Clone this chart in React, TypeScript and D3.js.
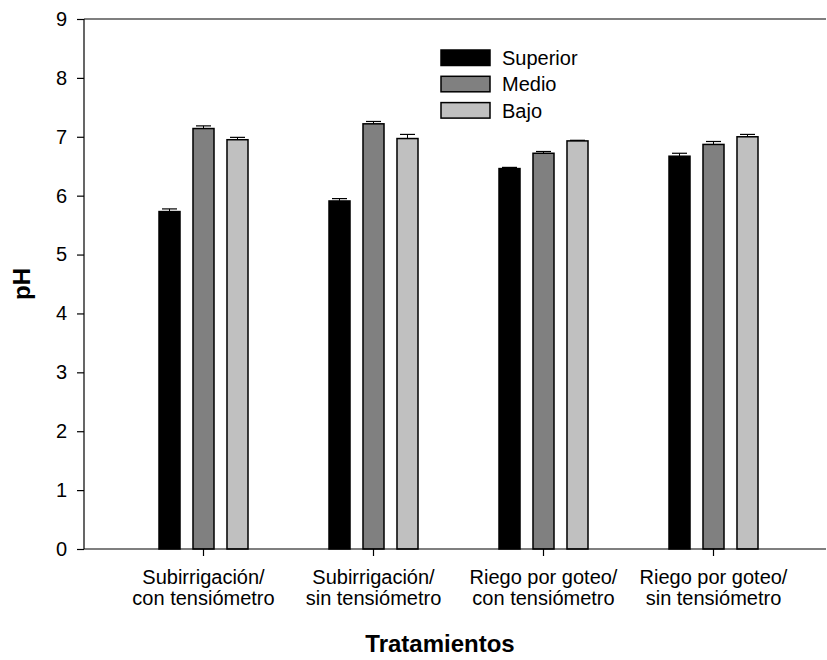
import { useRef, useEffect } from 'react';
import * as d3 from 'd3';

const categories = [
  ['Subirrigación/', 'con tensiómetro'],
  ['Subirrigación/', 'sin tensiómetro'],
  ['Riego por goteo/', 'con tensiómetro'],
  ['Riego por goteo/', 'sin tensiómetro'],
];
const seriesNames = ['Superior', 'Medio', 'Bajo'];
const seriesColors = ['#000000', '#808080', '#c0c0c0'];

const superior = [5.73, 5.91, 6.46, 6.67];
const medio = [7.14, 7.22, 6.72, 6.87];
const bajo = [6.95, 6.97, 6.93, 7.0];

const superiorErr = [0.045, 0.04, 0.02, 0.05];
const medioErr = [0.045, 0.04, 0.03, 0.05];
const bajoErr = [0.04, 0.07, 0.01, 0.04];

const yTicks = [0, 1, 2, 3, 4, 5, 6, 7, 8, 9];

const FONT = "Arial, 'Liberation Sans', sans-serif";

export default function App() {
  const svgRef = useRef<SVGSVGElement>(null);

  useEffect(() => {
    if (!svgRef.current) return;
    const width = 827;
    const height = 660;
    const svg = d3.select(svgRef.current);
    svg.selectAll('*').remove();
    svg.attr('width', width).attr('height', height);

    const left = 84;
    const right = 826;
    const top = 19;
    const bottom = 549;

    const values = [superior, medio, bajo];
    const errors = [superiorErr, medioErr, bajoErr];
    const catIdx = categories.map((_, i) => String(i));

    const x = d3.scalePoint<string>().domain(catIdx).range([left + 119.5, right - 112.5]);
    const xSub = d3.scaleBand<string>()
      .domain(seriesNames)
      .range([-44.5, 44.5])
      .paddingInner(0.382);
    const y = d3.scaleLinear().domain([0, 9]).range([bottom, top]);

    // bars
    seriesNames.forEach((name, s) => {
      const g = svg.append('g');
      g.selectAll('rect')
        .data(values[s])
        .join('rect')
        .attr('x', (_, i) => (x(String(i)) as number) + (xSub(name) as number))
        .attr('y', (d) => y(d))
        .attr('width', xSub.bandwidth())
        .attr('height', (d) => y(0) - y(d))
        .attr('fill', seriesColors[s])
        .attr('stroke', '#000')
        .attr('stroke-width', 1.5);

      // error bars (upper half only, like the original)
      const cx = (i: number) => (x(String(i)) as number) + (xSub(name) as number) + xSub.bandwidth() / 2;
      g.selectAll('line.err')
        .data(values[s])
        .join('line')
        .attr('class', 'err')
        .attr('x1', (_, i) => cx(i))
        .attr('x2', (_, i) => cx(i))
        .attr('y1', (d) => y(d))
        .attr('y2', (d, i) => y(d + errors[s][i]))
        .attr('stroke', '#000')
        .attr('stroke-width', 1);
      g.selectAll('line.cap')
        .data(values[s])
        .join('line')
        .attr('class', 'cap')
        .attr('x1', (_, i) => cx(i) - 7.5)
        .attr('x2', (_, i) => cx(i) + 7.5)
        .attr('y1', (d, i) => y(d + errors[s][i]))
        .attr('y2', (d, i) => y(d + errors[s][i]))
        .attr('stroke', '#000')
        .attr('stroke-width', 1.2);
    });

    // frame lines: left axis, top line, bottom axis
    svg.append('line')
      .attr('x1', left).attr('x2', left).attr('y1', top).attr('y2', bottom)
      .attr('stroke', '#000').attr('stroke-width', 1.2);
    svg.append('line')
      .attr('x1', left).attr('x2', right).attr('y1', top).attr('y2', top)
      .attr('stroke', '#000').attr('stroke-width', 1.2);
    svg.append('line')
      .attr('x1', left).attr('x2', right).attr('y1', bottom).attr('y2', bottom)
      .attr('stroke', '#000').attr('stroke-width', 1.2);

    // y axis
    const yAxis = svg.append('g')
      .attr('transform', `translate(${left},0)`)
      .call(d3.axisLeft(y).tickValues(yTicks).tickSize(7).tickPadding(10).tickFormat(d3.format('d')));
    yAxis.select('.domain').remove();
    yAxis.selectAll('line').attr('stroke', '#000').attr('stroke-width', 1.2);
    yAxis.selectAll('text')
      .attr('font-family', FONT)
      .attr('font-size', 20)
      .attr('fill', '#000');

    // x ticks
    svg.append('g')
      .selectAll('line')
      .data(catIdx)
      .join('line')
      .attr('x1', (d) => x(d) as number)
      .attr('x2', (d) => x(d) as number)
      .attr('y1', bottom)
      .attr('y2', bottom + 7)
      .attr('stroke', '#000')
      .attr('stroke-width', 1.2);

    // category labels
    const lab = svg.append('g')
      .selectAll('text')
      .data(categories)
      .join('text')
      .attr('font-family', FONT)
      .attr('font-size', 20)
      .attr('text-anchor', 'middle')
      .attr('fill', '#000');
    lab.selectAll('tspan')
      .data((d, i) => d.map((t) => ({ t, i })))
      .join('tspan')
      .attr('x', (d) => x(String(d.i)) as number)
      .attr('y', (_, j) => bottom + 35 + j * 21)
      .text((d) => d.t);

    // axis titles
    svg.append('text')
      .attr('x', (left + right) / 2 - 15)
      .attr('y', 652)
      .attr('text-anchor', 'middle')
      .attr('font-family', FONT)
      .attr('font-size', 24)
      .attr('font-weight', 'bold')
      .text('Tratamientos');

    svg.append('text')
      .attr('transform', `translate(30,${(top + bottom) / 2}) rotate(-90)`)
      .attr('text-anchor', 'middle')
      .attr('font-family', FONT)
      .attr('font-size', 24)
      .attr('font-weight', 'bold')
      .text('pH');

    // legend
    const legend = svg.append('g').attr('transform', 'translate(441,50)');
    const item = legend.selectAll('g')
      .data(seriesNames)
      .join('g')
      .attr('transform', (_, i) => `translate(0,${i * 26.3})`);
    item.append('rect')
      .attr('width', 49)
      .attr('height', 15.5)
      .attr('fill', (_, i) => seriesColors[i])
      .attr('stroke', '#000')
      .attr('stroke-width', 1.5);
    item.append('text')
      .attr('x', 61)
      .attr('y', 8)
      .attr('dy', '0.35em')
      .attr('font-family', FONT)
      .attr('font-size', 20)
      .text((d) => d);
  }, []);

  return (
    <svg
      ref={svgRef}
      style={{ position: 'absolute', left: 0, top: 0, background: '#fff' }}
    />
  );
}
